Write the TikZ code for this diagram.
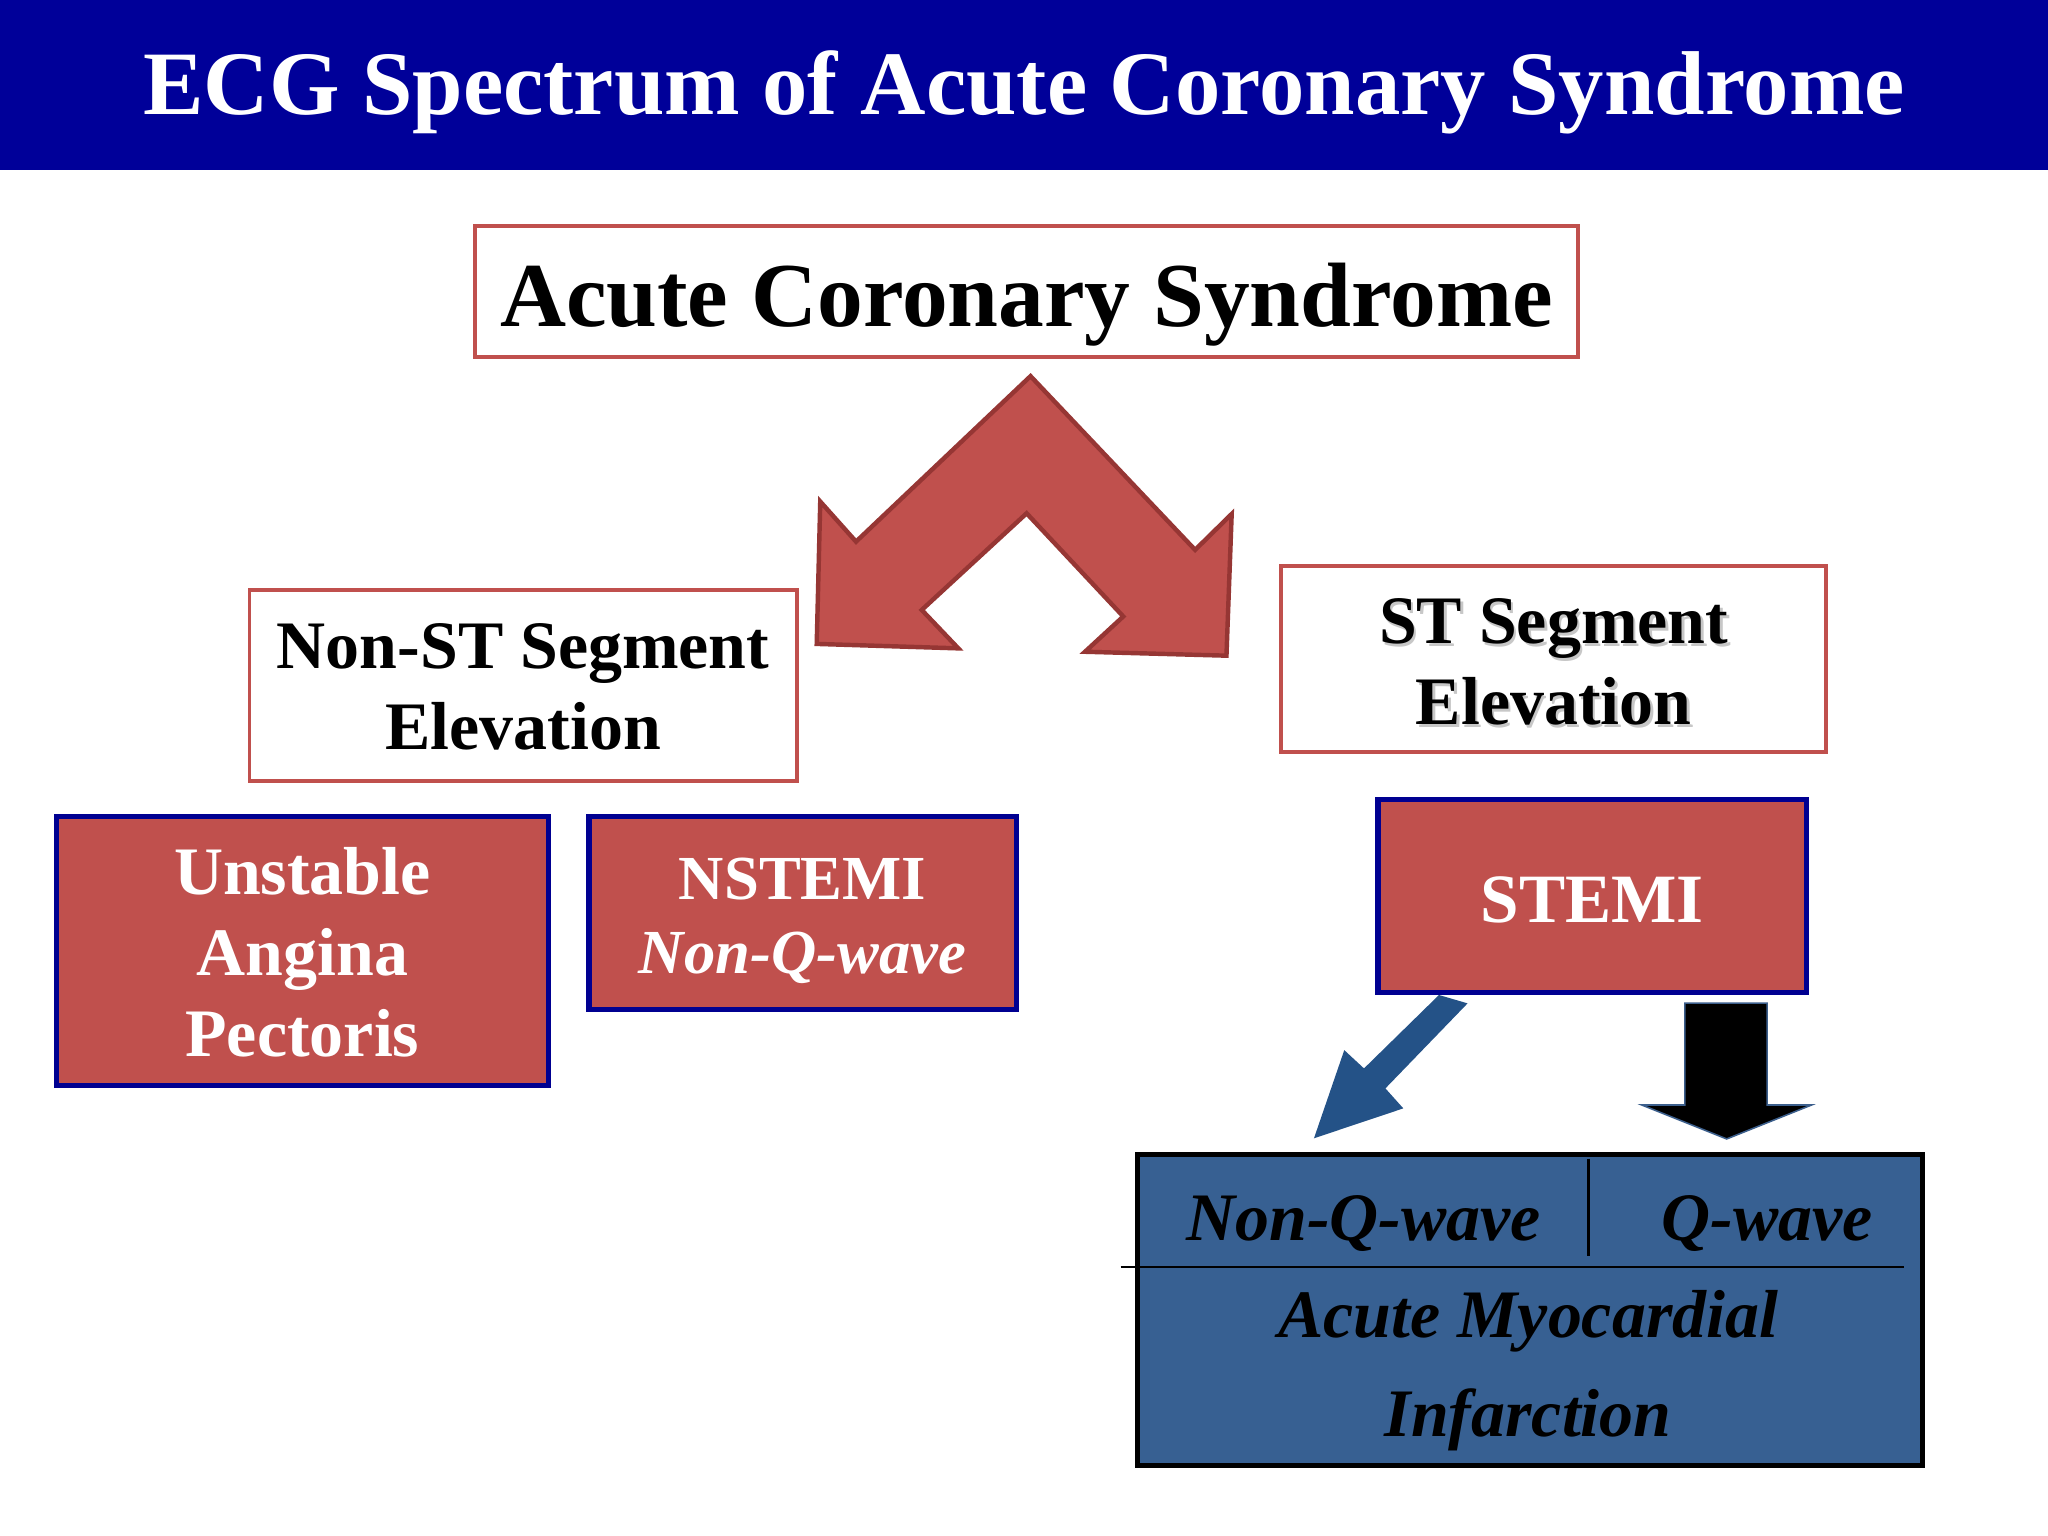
\documentclass[tikz,border=0pt]{standalone}
\usepackage{fontspec}
\setmainfont{Liberation Serif}
\definecolor{titleblue}{RGB}{0,0,153}
\definecolor{boxred}{RGB}{192,80,77}
\definecolor{darkred}{RGB}{150,54,52}
\definecolor{navy}{RGB}{0,0,145}
\definecolor{amiblue}{RGB}{55,96,146}
\definecolor{arrowblue}{RGB}{36,82,135}
\definecolor{outlineblue}{RGB}{60,95,140}
\begin{document}
\begin{tikzpicture}[x=0.5pt,y=-0.5pt,
  whitebox/.style={draw=boxred, line width=1.5pt, fill=white, inner sep=0pt},
  redbox/.style={draw=navy, line width=2pt, fill=boxred, inner sep=0pt},
  amibox/.style={draw=black, line width=2pt, fill=amiblue, inner sep=0pt},
  lbl/.style={anchor=base, inner sep=0pt},
  blk/.style={lbl, font=\fontsize{26}{31}\selectfont\bfseries, text=black},
  wht/.style={lbl, font=\fontsize{26}{31}\selectfont\bfseries, text=white},
  ital/.style={lbl, font=\fontsize{26}{31}\selectfont\bfseries\itshape, text=black},
  shadowtxt/.style={lbl, font=\fontsize{26}{31}\selectfont\bfseries, text=black!22}]
\useasboundingbox (0,0) rectangle (1568,1176);
\fill[white] (0,0) rectangle (1568,1176);
% title bar
\fill[titleblue] (0,0) rectangle (1568,130);
\node[lbl, text=white, font=\fontsize{34.7}{40}\selectfont\bfseries] (title) at (784,88) {ECG Spectrum of Acute Coronary Syndrome};
% top box
\node[whitebox, minimum width=422pt, minimum height=50pt] (acs) at (786,223) {};
\node[lbl, font=\fontsize{35}{40}\selectfont\bfseries] (acstxt) at (786,250) {Acute Coronary Syndrome};
% chevron arrow
\filldraw[fill=boxred, draw=darkred, line width=1.7pt, line join=miter]
  (789,288) -- (915,421) -- (943,393.5) -- (939,502) -- (830.7,499) -- (860,472)
  -- (786,393) -- (705.7,467) -- (733.7,496.4) -- (625.3,493) -- (628,384)
  -- (655.4,414.7) -- cycle;
% non-ST box
\node[whitebox, minimum width=209.5pt, minimum height=73pt] (nste) at (400.5,525) {};
\node[blk] (nste1) at (400.5,512) {Non-ST Segment};
\node[blk] (nste2) at (400.5,574) {Elevation};
% ST box
\node[whitebox, minimum width=208.5pt, minimum height=71.5pt] (ste) at (1189.5,504.5) {};
\node[shadowtxt] (ste1s) at (1191.5,495) {ST Segment};
\node[shadowtxt] (ste2s) at (1191.5,557) {Elevation};
\node[blk] (ste1) at (1189.5,493) {ST Segment};
\node[blk] (ste2) at (1189.5,555) {Elevation};
% UAP box
\node[redbox, minimum width=188.5pt, minimum height=103pt] (uap) at (231.5,728) {};
\node[wht] (uap1) at (231.5,685) {Unstable};
\node[wht] (uap2) at (231.5,747) {Angina};
\node[wht] (uap3) at (231.5,809) {Pectoris};
% NSTEMI box
\node[redbox, minimum width=163.5pt, minimum height=74pt] (nstemi) at (614.5,699) {};
\node[wht, font=\fontsize{24}{29}\selectfont\bfseries] (nstemi1) at (614.5,689) {NSTEMI};
\node[wht, font=\fontsize{24}{29}\selectfont\bfseries\itshape] (nstemi2) at (614.5,745) {Non-Q-wave};
% arrows from STEMI (drawn below the box)
\fill[arrowblue] (1101.7,761.8) -- (1123.6,768.2) -- (1060.7,833.3) -- (1074.4,848.6)
  -- (1006,871.5) -- (1029.2,804) -- (1044.3,818) -- cycle;
\filldraw[fill=black, draw=outlineblue, line width=0.6pt]
  (1290,768) -- (1353,768) -- (1353,846) -- (1387,846) -- (1322,872) -- (1257,846)
  -- (1290,846) -- cycle;
% STEMI box
\node[redbox, minimum width=164pt, minimum height=74pt] (stemi) at (1219,686) {};
\node[wht, font=\fontsize{26.5}{31}\selectfont\bfseries] (stemi1) at (1219,706) {STEMI};
% AMI box
\node[amibox, minimum width=300.5pt, minimum height=119pt] (ami) at (1171.5,1003) {};
\coordinate (hl) at (858,970);
\coordinate (hr) at (1458,970);
\coordinate (vt) at (1216,887);
\coordinate (vb) at (1216,962);
\draw[black, line width=1pt] (hl) -- (hr);
\draw[black, line width=1pt] (vt) -- (vb);
\node[ital] (ami1) at (1044,950) {Non-Q-wave};
\node[ital] (ami2) at (1353,950) {Q-wave};
\node[ital] (ami3) at (1170,1024) {Acute Myocardial};
\node[ital] (ami4) at (1170,1100) {Infarction};
\end{tikzpicture}
\end{document}
